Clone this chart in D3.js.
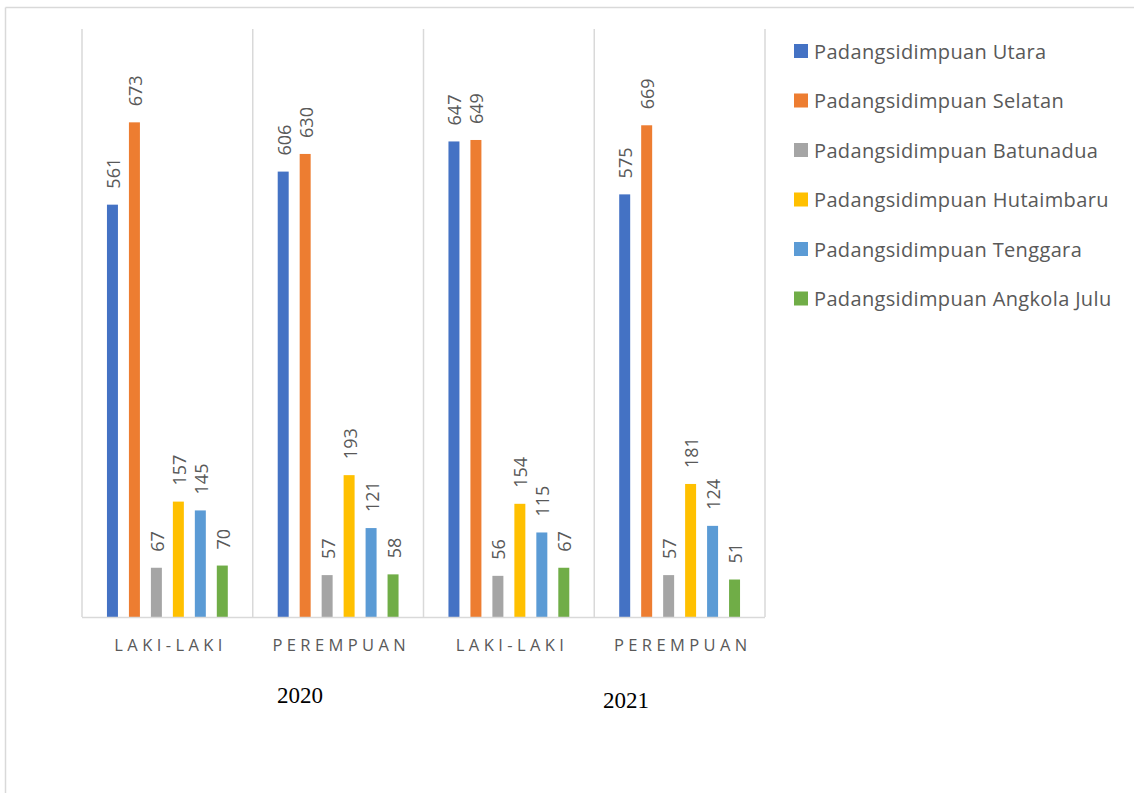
<!DOCTYPE html>
<html>
<head>
<meta charset="utf-8">
<script src="https://cdn.jsdelivr.net/npm/d3@7"></script>
<style>
  html, body { margin: 0; padding: 0; background: #fff; }
  svg { display: block; }
</style>
</head>
<body>
<svg id="chart" width="1134" height="793"></svg>
<script>
const categories = ["LAKI-LAKI", "PEREMPUAN", "LAKI-LAKI", "PEREMPUAN"];
const years = ["2020", "2021"];
const seriesNames = [
  "Padangsidimpuan Utara",
  "Padangsidimpuan Selatan",
  "Padangsidimpuan Batunadua",
  "Padangsidimpuan Hutaimbaru",
  "Padangsidimpuan Tenggara",
  "Padangsidimpuan Angkola Julu"
];
const utara      = [561, 606, 647, 575];
const selatan    = [673, 630, 649, 669];
const batunadua  = [67, 57, 56, 57];
const hutaimbaru = [157, 193, 154, 181];
const tenggara   = [145, 121, 115, 124];
const angkola    = [70, 58, 67, 51];
const seriesValues = [utara, selatan, batunadua, hutaimbaru, tenggara, angkola];
const colors = ["#4472C4", "#ED7D31", "#A5A5A5", "#FFC000", "#5B9BD5", "#70AD47"];

const svg = d3.select("#chart");
const gridColor = "#d9d9d9";
const textColor = "#595959";

// outer frame
svg.append("line").attr("x1", 5.5).attr("x2", 5.5).attr("y1", 7.5).attr("y2", 793)
  .attr("stroke", gridColor).attr("stroke-width", 1.5);
svg.append("line").attr("x1", 5.5).attr("x2", 1134).attr("y1", 7.5).attr("y2", 7.5)
  .attr("stroke", gridColor).attr("stroke-width", 1.5);

const plot = { left: 82, right: 765, top: 29, bottom: 617 };

const x0 = d3.scaleBand().domain(d3.range(categories.length))
  .range([plot.left, plot.right]).paddingInner(0).paddingOuter(0);
const x1 = d3.scaleBand().domain(d3.range(seriesNames.length))
  .range([0, x0.bandwidth()]).paddingInner(0.5).paddingOuter(1.136);
const y = d3.scaleLinear().domain([0, 800]).range([plot.bottom, plot.top]);

// separator lines
const seps = d3.range(categories.length + 1).map(i => i === categories.length ? plot.right : x0(i));
svg.append("g").selectAll("line").data(seps).join("line")
  .attr("x1", d => d).attr("x2", d => d)
  .attr("y1", plot.top).attr("y2", plot.bottom)
  .attr("stroke", gridColor).attr("stroke-width", 1.5);

// bars
const groups = svg.append("g").selectAll("g").data(categories).join("g")
  .attr("transform", (d, i) => `translate(${x0(i)},0)`);

groups.each(function(cat, ci) {
  const g = d3.select(this);
  const vals = seriesValues.map(s => s[ci]);
  g.selectAll("rect").data(vals).join("rect")
    .attr("x", (v, si) => x1(si))
    .attr("width", x1.bandwidth())
    .attr("y", v => y(v))
    .attr("height", v => y(0) - y(v))
    .attr("fill", (v, si) => colors[si]);
  g.selectAll("text").data(vals).join("text")
    .attr("transform", (v, si) => `translate(${x1(si) + x1.bandwidth() / 2 + 0.5},${y(v) - 16}) rotate(-90)`)
    .attr("text-anchor", "start")
    .attr("dominant-baseline", "central")
    .attr("font-family", "'Open Sans', sans-serif")
    .attr("font-size", 18)
    .attr("fill", textColor)
    .text(v => v);
});

// baseline
svg.append("line").attr("x1", plot.left).attr("x2", plot.right)
  .attr("y1", plot.bottom + 0.5).attr("y2", plot.bottom + 0.5)
  .attr("stroke", gridColor).attr("stroke-width", 1.5);

// category labels
const ls = 4.4;
svg.append("g").selectAll("text").data(categories).join("text")
  .attr("x", (d, i) => x0(i) + x0.bandwidth() / 2 + ls / 2 + 1)
  .attr("y", 651)
  .attr("text-anchor", "middle")
  .attr("font-family", "'Open Sans', sans-serif")
  .attr("font-size", 16.5)
  .attr("letter-spacing", ls)
  .attr("fill", textColor)
  .text(d => d);

// year labels
const yearPos = [[300, 703], [626, 708]];
svg.append("g").selectAll("text").data(years).join("text")
  .attr("x", (d, i) => yearPos[i][0])
  .attr("y", (d, i) => yearPos[i][1])
  .attr("text-anchor", "middle")
  .attr("font-family", "'Liberation Serif', 'Times New Roman', serif")
  .attr("font-size", 23)
  .attr("fill", "#000")
  .text(d => d);

// legend
const legend = svg.append("g").selectAll("g").data(seriesNames).join("g")
  .attr("transform", (d, i) => `translate(794,${51 + i * 49.5})`);
legend.append("rect").attr("x", 0).attr("y", -7).attr("width", 14).attr("height", 14)
  .attr("fill", (d, i) => colors[i]);
legend.append("text").attr("x", 20).attr("y", 0)
  .attr("dominant-baseline", "central")
  .attr("font-family", "'Open Sans', sans-serif")
  .attr("font-size", 20)
  .attr("letter-spacing", 0.35)
  .attr("fill", textColor)
  .text(d => d);
</script>
</body>
</html>
